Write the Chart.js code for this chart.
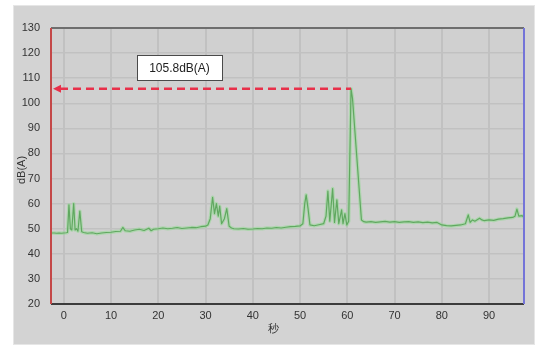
<!DOCTYPE html>
<html>
<head>
<meta charset="utf-8">
<script src="https://cdn.jsdelivr.net/npm/chart.js@4"></script>
<style>
  html, body { margin: 0; padding: 0; background: #ffffff; }
  #holder { width: 540px; height: 349px; }
</style>
</head>
<body>
<div id="holder"><canvas id="noise-chart"></canvas></div>
<script>
const seconds = [
  -2.7, -2, -1.5, -1, -0.5, 0, 0.5, 0.8, 1.1, 1.4, 1.7, 2.1, 2.4, 2.7, 3.0, 3.4, 3.8, 4.2,
  5, 6, 7, 8, 9, 10, 11, 12, 12.5, 13, 14, 15, 16, 17, 18, 18.5, 19, 20,
  21, 22, 23, 24, 25, 26, 27, 28, 29, 30, 30.5, 31, 31.5, 31.9, 32.3, 32.7, 33, 33.4, 34, 34.5, 35, 35.5,
  36, 37, 38, 39, 40, 41, 42, 43, 44, 45, 46, 47, 48, 49, 50, 50.6, 51, 51.3, 51.7, 52.1,
  53, 54, 55, 55.5, 55.9, 56.3, 56.9, 57.3, 57.8, 58.2, 58.8, 59.1, 59.5, 59.9, 60.3, 60.8, 61.1,
  63, 63.5, 64, 65, 66, 67, 68, 69, 70, 71, 72, 73, 74, 75, 76, 77, 78, 79, 80,
  81, 82, 83, 84, 85, 85.6, 86, 86.5, 87, 88, 88.5, 89, 90, 91, 92, 93, 94, 95, 95.5, 95.9, 96.3, 97, 97.4
];
const levels = [
  48.3, 48.3, 48.2, 48.3, 48.2, 48.3, 48.4, 48.5, 59.5, 50, 49.5, 60, 49.5, 50, 49, 57, 48.8, 48.5,
  48.2, 48.4, 48.0, 48.3, 48.5, 48.6, 48.9, 49.0, 50.5, 49.2, 49.0, 49.5, 49.8, 49.3, 50.2, 49.2, 49.8, 50.0,
  50.3, 50.0, 50.2, 50.5, 50.1, 50.3, 50.5, 50.4, 50.8, 51.0, 51.5, 54, 62.5, 56, 60, 55, 59, 52, 54, 58, 51, 50.3,
  50.0, 49.9, 50.1, 49.8, 49.9, 50.1, 50.0, 50.3, 50.2, 50.5, 50.3, 50.6, 50.8, 50.9, 51.1, 52, 60, 63.5, 58, 51.5,
  51.2, 51.6, 52, 55, 65, 53, 66, 52.5, 61.5, 52, 57.5, 52, 56, 51.5, 53, 105.8, 102,
  53.5, 52.8, 52.6, 52.8, 52.5, 52.7, 52.9, 52.6, 52.8, 52.5, 52.7, 52.8, 52.5, 52.7, 52.4, 52.6, 52.3, 52.5, 51.5,
  51.2, 51.1, 51.3, 51.5, 52, 55.5, 52.5, 53.5, 53, 54.2, 53.5, 53.2, 53.5, 53.3, 53.8, 54, 54.3, 54.5, 55, 57.8, 55, 55.2, 54.5
];
const xTicks = [0, 10, 20, 30, 40, 50, 60, 70, 80, 90];
const yTicks = [20, 30, 40, 50, 60, 70, 80, 90, 100, 110, 120, 130];
const xTitle = '秒';
const yTitle = 'dB(A)';

const points = seconds.map((s, i) => ({x: s, y: levels[i]}));
const peakLevel = Math.max(...levels);
const peakSecond = seconds[levels.indexOf(peakLevel)];
const peakLabel = peakLevel.toFixed(1) + 'dB(A)';

const fontFamily = '"Liberation Sans", Arial, sans-serif';

const panelBackground = {
    id: 'panelBackground',
    beforeDraw(chart) {
        const {ctx, chartArea: {top, bottom, left, right}} = chart;
        ctx.save();
        ctx.fillStyle = '#d3d3d3';
        ctx.fillRect(13, 5, 522, 340);
        ctx.strokeStyle = '#e6e6e6';
        ctx.lineWidth = 1;
        ctx.strokeRect(13.5, 5.5, 521, 339);
        ctx.fillStyle = '#d0d0d0';
        ctx.fillRect(left, top, right - left, bottom - top);
        ctx.restore();
    }
};

const frameAndMarks = {
    id: 'frameAndMarks',
    afterDraw(chart) {
        const {ctx, chartArea: {top, bottom, left, right}, scales: {x, y}} = chart;
        ctx.save();
        // frame
        ctx.lineWidth = 2;
        ctx.strokeStyle = '#6e6e6e';
        ctx.beginPath(); ctx.moveTo(left, top); ctx.lineTo(right, top); ctx.stroke();
        ctx.strokeStyle = '#3c3c3c';
        ctx.beginPath(); ctx.moveTo(left, bottom); ctx.lineTo(right, bottom); ctx.stroke();
        ctx.strokeStyle = '#c44848';
        ctx.beginPath(); ctx.moveTo(left, top); ctx.lineTo(left, bottom); ctx.stroke();
        ctx.strokeStyle = '#7474d8';
        ctx.beginPath(); ctx.moveTo(right, top); ctx.lineTo(right, bottom); ctx.stroke();

        // peak marker line
        const py = y.getPixelForValue(peakLevel);
        const px = x.getPixelForValue(peakSecond);
        ctx.strokeStyle = '#e8304a';
        ctx.lineWidth = 2.5;
        ctx.setLineDash([8, 5]);
        ctx.beginPath(); ctx.moveTo(left + 9, py); ctx.lineTo(px, py); ctx.stroke();
        ctx.setLineDash([]);
        ctx.fillStyle = '#e8304a';
        ctx.beginPath();
        ctx.moveTo(left + 2, py);
        ctx.lineTo(left + 10, py - 4);
        ctx.lineTo(left + 10, py + 4);
        ctx.closePath();
        ctx.fill();

        // peak label box
        ctx.font = '12px ' + fontFamily;
        const bx = left + 86, by = top + 27, bw = 85, bh = 25;
        ctx.fillStyle = '#ffffff';
        ctx.fillRect(bx, by, bw, bh);
        ctx.strokeStyle = '#4a4a4a';
        ctx.lineWidth = 1;
        ctx.strokeRect(bx + 0.5, by + 0.5, bw, bh);
        ctx.fillStyle = '#222222';
        ctx.textAlign = 'center';
        ctx.textBaseline = 'middle';
        ctx.fillText(peakLabel, bx + bw / 2, by + bh / 2 + 1);

        // axis titles
        ctx.font = '11px ' + fontFamily;
        ctx.fillStyle = '#333333';
        ctx.fillText(xTitle, 273, 329);
        ctx.translate(22, 170);
        ctx.rotate(-Math.PI / 2);
        ctx.fillText(yTitle, 0, 0);
        ctx.restore();
    }
};

const noiseConfig = {
    type: 'line',
    data: {
        datasets: [{
            data: points,
            borderColor: 'rgba(140,220,140,0.5)',
            borderWidth: 3.5,
            borderJoinStyle: 'round',
            borderCapStyle: 'round',
            pointRadius: 0,
            tension: 0,
            fill: false
        }, {
            data: points,
            borderColor: '#357535',
            borderWidth: 1.2,
            borderJoinStyle: 'round',
            pointRadius: 0,
            tension: 0,
            fill: false
        }]
    },
    options: {
        responsive: true,
        maintainAspectRatio: false,
        animation: false,
        layout: {padding: {left: 13, top: 28, right: 16, bottom: 0}},
        plugins: {legend: {display: false}, tooltip: {enabled: false}},
        scales: {
            x: {
                type: 'linear',
                min: -2.7,
                max: 97.4,
                afterBuildTicks(scale) { scale.ticks = xTicks.map(v => ({value: v})); },
                afterFit(scale) { scale.height = 45; },
                border: {display: false},
                grid: {color: '#c1c1c1', lineWidth: 2, drawTicks: false},
                ticks: {color: '#333333', padding: 5, font: {size: 11, family: fontFamily}, maxRotation: 0}
            },
            y: {
                min: 20,
                max: 130,
                afterBuildTicks(scale) { scale.ticks = yTicks.map(v => ({value: v})); },
                afterFit(scale) { scale.width = 38; },
                border: {display: false},
                grid: {color: '#c1c1c1', lineWidth: 1.5, drawTicks: false},
                ticks: {color: '#333333', padding: 11, font: {size: 11, family: fontFamily}}
            }
        }
    },
    plugins: [panelBackground, frameAndMarks]
};

new Chart('noise-chart', noiseConfig);
</script>
</body>
</html>
